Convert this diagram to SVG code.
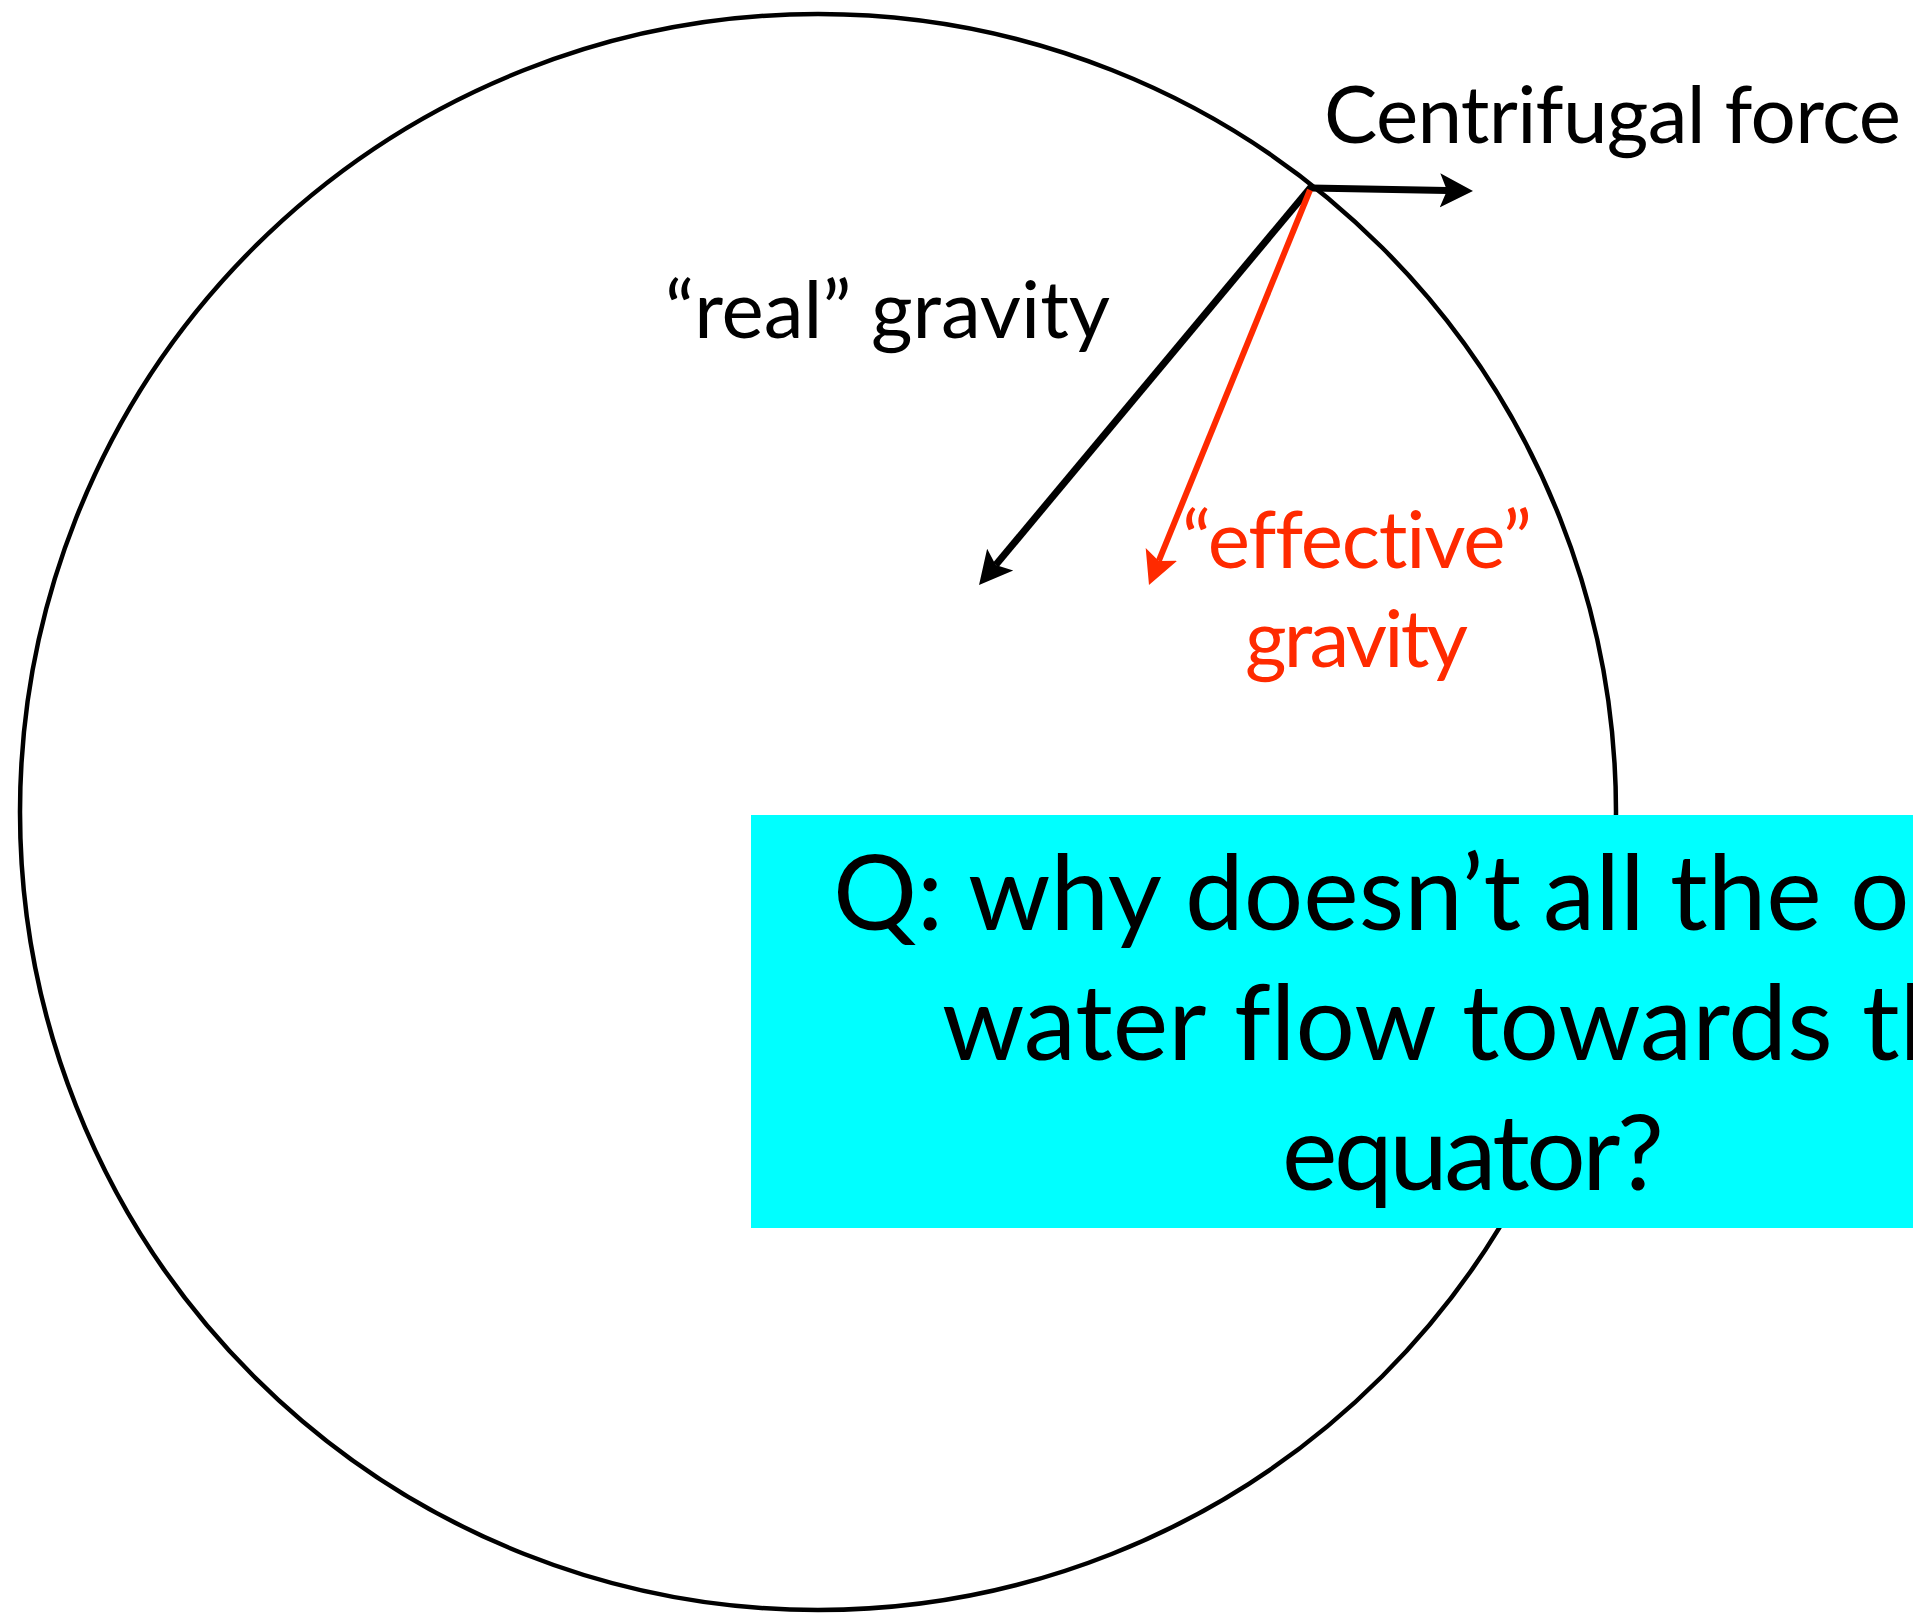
<svg xmlns="http://www.w3.org/2000/svg" width="1913" height="1614" viewBox="0 0 1913 1614">
  <style>
    text { font-variant-ligatures: none; font-feature-settings: "liga" 0, "dlig" 0; }
    .lbl { font-family: Lato, "Noto Sans", "Liberation Sans", sans-serif; font-size: 80px; }
    .q { font-family: Lato, "Noto Sans", "Liberation Sans", sans-serif; font-size: 105px; fill: #000; }
    .blk { fill: #000; }
    .red { fill: #FF2A00; }
    .arr-b { stroke: #000; stroke-width: 7; fill: none; }
    .arr-r { stroke: #FF2A00; stroke-width: 6; fill: none; }
  </style>
  <defs>
    <marker id="headB" markerUnits="userSpaceOnUse" markerWidth="40" markerHeight="40" viewBox="0 -20 40 40" refX="7" refY="0" orient="auto">
      <path d="M0,-17 L33,0 L0,17 L7,0 Z" fill="#000"/>
    </marker>
    <marker id="headR" markerUnits="userSpaceOnUse" markerWidth="40" markerHeight="40" viewBox="0 -20 40 40" refX="7" refY="0" orient="auto">
      <path d="M0,-17 L33,0 L0,17 L7,0 Z" fill="#FF2A00"/>
    </marker>
  </defs>
  <rect width="1913" height="1614" fill="#fff"/>

  <g id="earth">
    <circle cx="818" cy="812" r="798" fill="none" stroke="#000" stroke-width="4.5"/>
  </g>

  <g id="connectors">
    <line class="arr-b" x1="1311" y1="188" x2="1447" y2="190.5" marker-end="url(#headB)"/>
    <line class="arr-b" x1="1311" y1="187" x2="995.7" y2="565" marker-end="url(#headB)"/>
    <line class="arr-r" x1="1310" y1="190" x2="1158.8" y2="560.9" marker-end="url(#headR)"/>
  </g>

  <g id="label-centrifugal">
    <text class="lbl blk" x="1324" y="143" textLength="577">Centrifugal force</text>
  </g>
  <g id="label-real">
    <text class="lbl blk" x="665" y="338" textLength="445">“real” gravity</text>
  </g>
  <g id="label-effective">
    <text class="lbl red" x="1182" y="568" textLength="350">“effective”</text>
    <text class="lbl red" x="1245" y="667" textLength="223">gravity</text>
  </g>

  <g id="question">
    <rect x="751" y="815" width="1162" height="413" fill="#00FFFF"/>
    <text class="q" y="930"><tspan x="833">Q:</tspan><tspan x="968">why</tspan><tspan x="1185">doesn’t</tspan><tspan x="1543">all</tspan><tspan x="1670">the</tspan><tspan x="1850">o</tspan></text>
    <text class="q" y="1060"><tspan x="942">water</tspan><tspan x="1234">flow</tspan><tspan x="1462">towards</tspan><tspan x="1862">th</tspan></text>
    <text class="q" x="1282" y="1190" textLength="382">equator?</text>
  </g>
</svg>
